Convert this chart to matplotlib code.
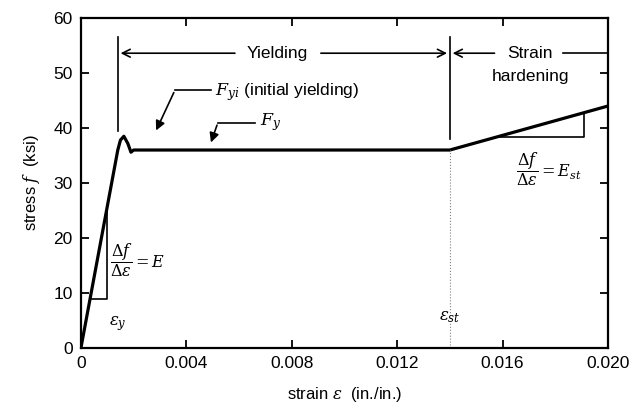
import numpy as np
import matplotlib
matplotlib.use("Agg")
import matplotlib.pyplot as plt

plt.rcParams['font.family'] = ['Liberation Sans', 'DejaVu Sans']
plt.rcParams['mathtext.fontset'] = 'dejavuserif'

# stress-strain curve
strain = [0.0, 0.00140, 0.00150, 0.00163, 0.00178, 0.00190, 0.00200, 0.0030, 0.0140, 0.0200]
stress = [0.0, 36.0, 37.8, 38.5, 37.2, 35.6, 36.0, 36.0, 36.0, 44.0]

eps_y = 0.0014
eps_st = 0.014

xticks = [0, 0.004, 0.008, 0.012, 0.016, 0.020]
xlabels = ['0', '0.004', '0.008', '0.012', '0.016', '0.020']
yticks = [0, 10, 20, 30, 40, 50, 60]

fig = plt.figure(figsize=(6.32, 4.09), dpi=100)
ax = fig.add_axes([0.128, 0.149, 0.834, 0.807])

ax.plot(strain, stress, color='black', lw=2.3, solid_joinstyle='round')

# elastic slope triangle
ax.plot([0.00035, 0.00099, 0.00099], [8.9, 8.9, 25.5], color='black', lw=1.2)
# strain hardening slope triangle
ax.plot([0.0159, 0.0191, 0.0191], [38.3, 38.3, 42.6], color='black', lw=1.2)

# region boundaries
ax.plot([eps_y, eps_y], [39.5, 56.5], color='black', lw=1.2)
ax.plot([eps_st, eps_st], [38.0, 56.5], color='black', lw=1.2)
ax.plot([eps_st, eps_st], [0, 36], color='gray', lw=0.8, ls=':')

arr = dict(arrowstyle='->', color='black', lw=1.2, mutation_scale=14)
ax.annotate('', xy=(eps_y, 53.6), xytext=(0.00595, 53.6), arrowprops=arr)
ax.text(0.00745, 53.6, 'Yielding', ha='center', va='center', fontsize=12.5)
ax.annotate('', xy=(eps_st, 53.6), xytext=(0.00900, 53.6), arrowprops=arr)
ax.annotate('', xy=(eps_st, 53.6), xytext=(0.0158, 53.6), arrowprops=arr)
ax.text(0.01705, 53.6, 'Strain', ha='center', va='center', fontsize=12.5)
ax.plot([0.0183, 0.0200], [53.6, 53.6], color='black', lw=1.2)
ax.text(0.01705, 49.3, 'hardening', ha='center', va='center', fontsize=12.5)

# F_yi and F_y pointers
ax.plot([0.00495, 0.00357], [46.9, 46.9], color='black', lw=1.2)
ax.annotate('', xy=(0.00281, 39.1), xytext=(0.00357, 46.9),
            arrowprops=dict(arrowstyle='-|>', color='black', lw=1.2, mutation_scale=14))
ax.text(0.0051, 46.6, r'$F_{yi}$ (initial yielding)', ha='left', va='center', fontsize=12.5)
ax.plot([0.0066, 0.00520], [41.0, 41.0], color='black', lw=1.2)
ax.annotate('', xy=(0.0049, 36.9), xytext=(0.0052, 41.0),
            arrowprops=dict(arrowstyle='-|>', color='black', lw=1.2, mutation_scale=14))
ax.text(0.0068, 41.0, r'$F_y$', ha='left', va='center', fontsize=12.5)

# slope labels
ax.text(0.00112, 16.0, r'$\dfrac{\Delta f}{\Delta \varepsilon}=E$', ha='left', va='center', fontsize=11.5)
ax.text(0.0165, 32.5, r'$\dfrac{\Delta f}{\Delta \varepsilon}=E_{st}$', ha='left', va='center', fontsize=11.5)

ax.text(eps_y, 4.5, r'$\varepsilon_y$', ha='center', va='center', fontsize=12)
ax.text(eps_st, 5.6, r'$\varepsilon_{st}$', ha='center', va='center', fontsize=12)

ax.set_xlim(0, 0.020)
ax.set_ylim(0, 60)
ax.set_xticks(xticks)
ax.set_xticklabels(xlabels)
ax.set_yticks(yticks)
ax.tick_params(direction='in', length=6, width=1.3, labelsize=12.5, top=True, right=True, pad=6)
for s in ax.spines.values():
    s.set_linewidth(1.6)

ax.set_xlabel(r'strain $\varepsilon$  (in./in.)', fontsize=12, labelpad=10)
ax.set_ylabel(r'stress $f$  (ksi)', fontsize=12, labelpad=8)

fig.savefig('out.png', dpi=100)
